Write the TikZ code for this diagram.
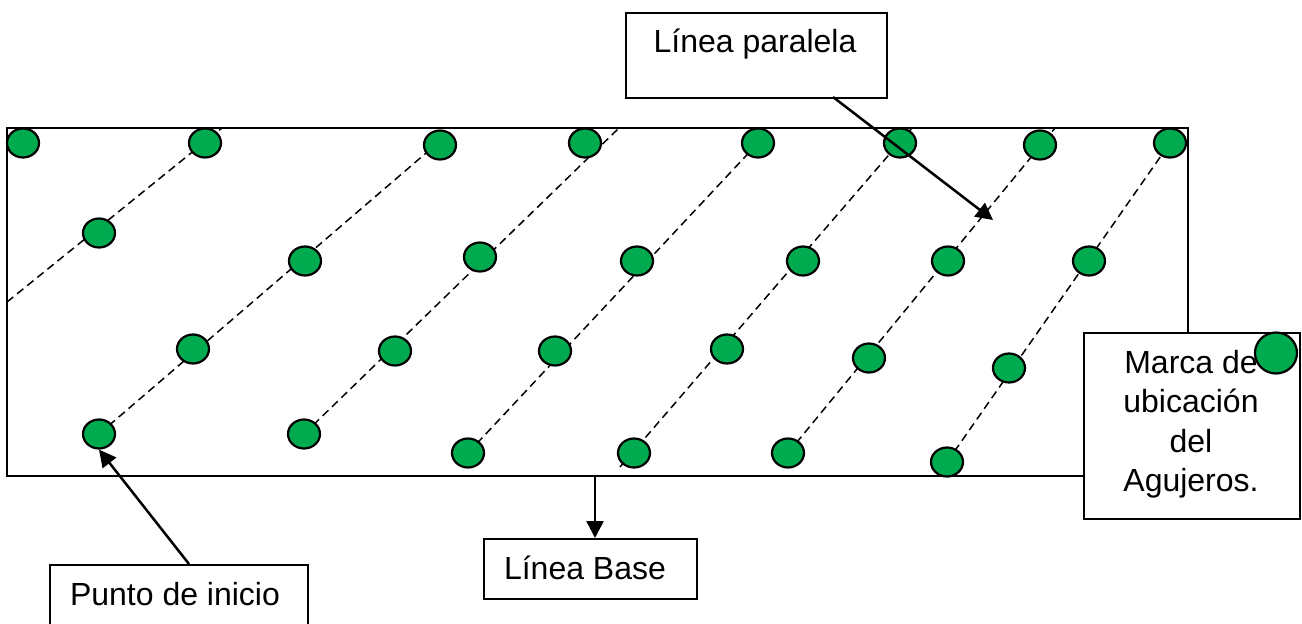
\documentclass[tikz,border=0pt]{standalone}
\usepackage{fontspec}
\setmainfont{Liberation Sans}
\usetikzlibrary{shapes.geometric,arrows.meta}
\definecolor{holegreen}{RGB}{0,170,79}
\pgfdeclarelayer{bg}
\pgfsetlayers{bg,main}
\begin{document}
\begin{tikzpicture}[x=1pt,y=-1pt,
  hole/.style={ellipse,draw=black,line width=2.2pt,fill=holegreen,minimum width=32pt,minimum height=29pt,inner sep=0pt},
  guide/.style={dash pattern=on 8pt off 5pt,line width=1.5pt},
  labelbox/.style={draw,line width=2pt,fill=white,inner sep=0pt,anchor=north west},
  lbl/.style={font=\fontsize{32}{40}\selectfont,anchor=base,inner sep=0pt},
  pointer/.style={line width=2.5pt,-{Triangle[length=17pt,width=17pt]}}]
\useasboundingbox (0,0) rectangle (1302,624);
\clip (0,0) rectangle (1302,624);

% holes
\foreach \n/\x/\y in {c11/23/143,c12/205/143,c13/440/145,c14/585/143,c15/758/143,c16/900/143,c17/1040/145,c18/1170/143,
  c21/99/233,c22/305/261,c23/480/257,c24/637/261,c25/803/261,c26/948/261,c27/1089/261,
  c31/193/349,c32/395/351,c33/555/351,c34/727/349,c35/869/358,c36/1009/368,
  c41/99/434,c42/304/434,c43/468/453,c44/634/453,c45/788/453,c46/947/462}
  \node[hole] (\n) at (\x,\y) {};

% guide line end points
\coordinate (l1a) at (7,302);
\coordinate (l1b) at (222,128);
\coordinate (l2b) at (454,129);
\coordinate (l3b) at (618,129);
\coordinate (l5a) at (620,467);
\coordinate (l5b) at (912,128);
\coordinate (l6b) at (1055,128);
\coordinate (basept) at (595,476);

\begin{pgfonlayer}{bg}
  \draw[line width=2.2pt] (7,128) rectangle (1188,476);
  \draw[guide] (l1a) -- (l1b);
  \draw[guide] (c41.center) -- (l2b);
  \draw[guide] (c42.center) -- (l3b);
  \draw[guide] (c43.center) -- (c15.center);
  \draw[guide] (l5a) -- (l5b);
  \draw[guide] (c45.center) -- (l6b);
  \draw[guide] (c46.center) -- (c18.center);
\end{pgfonlayer}

% label boxes
\node[labelbox,minimum width=261pt,minimum height=85pt] (parbox) at (625,12) {};
\node[lbl] (partxt) at (755,52) {Línea paralela};

\node[labelbox,minimum width=213pt,minimum height=60pt] (basebox) at (483,538) {};
\node[lbl] (basetxt) at (585,579) {Línea Base};

\node[labelbox,minimum width=258pt,minimum height=80pt] (ptobox) at (49,564) {};
\node[lbl] (ptotxt) at (175,605) {Punto de inicio};

\node[labelbox,minimum width=216pt,minimum height=186pt] (marcabox) at (1083,332) {};
\node[lbl] (m1) at (1191,373) {Marca de};
\node[lbl] (m2) at (1191,412) {ubicación};
\node[lbl] (m3) at (1191,452) {del};
\node[lbl] (m4) at (1191,491) {Agujeros.};
\node[hole,minimum width=42pt,minimum height=41pt] (marcahole) at (1276,353) {};

% pointers
\coordinate (parfoot) at (833,97);
\coordinate (partip) at (993,220);
\coordinate (ptohead) at (189,564);
\draw[pointer] (parfoot) -- (partip);
\draw[pointer] (basept) -- (basebox.north -| basept);
\draw[pointer] (ptohead) -- (c41.south);
\end{tikzpicture}
\end{document}
